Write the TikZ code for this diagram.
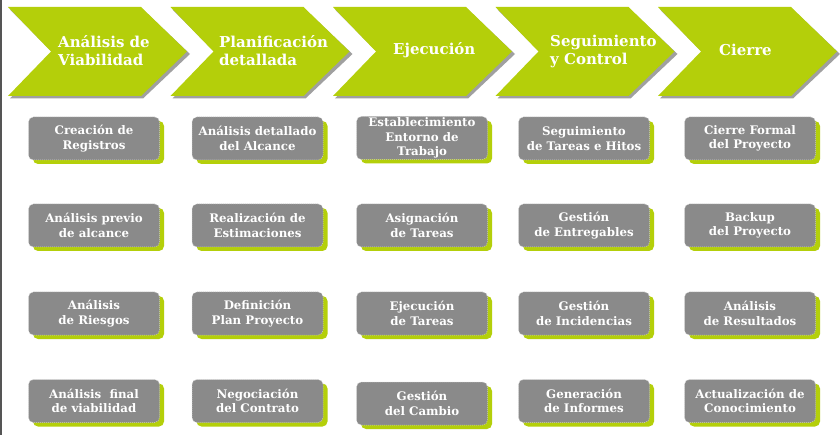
\documentclass[tikz,border=0pt]{standalone}
\usepackage{fontspec}
\setmainfont{DejaVu Serif}
\usetikzlibrary{shadows}
\definecolor{lime}{RGB}{180,207,10}
\definecolor{boxgray}{RGB}{138,138,138}
\definecolor{chevshadow}{RGB}{160,160,160}
\definecolor{boxborder}{RGB}{205,205,205}
\definecolor{edgegray}{RGB}{85,85,85}
\tikzset{
  chevtext/.style={text=white, font=\fontsize{15}{18}\selectfont\bfseries, align=left, inner sep=0pt},
  taskbox/.style={rounded corners=5pt, fill=boxgray, draw=boxborder, dash pattern=on 1pt off 1pt, line width=0.5pt,
    minimum width=131pt, minimum height=43pt, inner sep=0pt, text=white, align=center,
    font=\fontsize{11.8}{14.5}\selectfont\bfseries,
    drop shadow={fill=lime, opacity=1, shadow xshift=4.5pt, shadow yshift=-4pt}}
}
\begin{document}
\begin{tikzpicture}[x=1pt,y=-1pt]
\useasboundingbox (0,0) rectangle (840,435);
\fill[white] (0,0) rectangle (840,435);
\draw[line width=2pt, edgegray] (1,0) -- (1,435);
% chevrons
\foreach \x in {8,170.5,333,495.5,658}{
  \fill[chevshadow] (\x+2,9.5) -- (\x+135,9.5) -- (\x+182,54) -- (\x+135,98.5) -- (\x+2,98.5) -- (\x+46,54) -- cycle;
  \fill[lime] (\x,7) -- (\x+133,7) -- (\x+179,51.5) -- (\x+133,96) -- (\x,96) -- (\x+43,51.5) -- cycle;
}
\node[chevtext, anchor=west] (c1) at (58,51) {Análisis de\\Viabilidad};
\node[chevtext, anchor=west] (c2) at (219,51) {Planificación\\detallada};
\node[chevtext, anchor=west] (c3) at (393,50.5) {Ejecución};
\node[chevtext, anchor=west] (c4) at (550,51) {Seguimiento\\y Control};
\node[chevtext, anchor=west] (c5) at (719,50) {Cierre};
% column 1
\node[taskbox] (b11) at (94,138.5) {Creación de\\Registros};
\node[taskbox] (b12) at (94,225.5) {Análisis previo\\de alcance};
\node[taskbox] (b13) at (94,313.5) {Análisis\\de Riesgos};
\node[taskbox] (b14) at (94,401) {Análisis\ \ final\\de viabilidad};
% column 2
\node[taskbox] (b21) at (257.5,138.5) {Análisis detallado\\del Alcance};
\node[taskbox] (b22) at (257.5,225.5) {Realización de\\Estimaciones};
\node[taskbox] (b23) at (257.5,313.5) {Definición\\Plan Proyecto};
\node[taskbox] (b24) at (257.5,401) {Negociación\\del Contrato};
% column 3
\node[taskbox] (b31) at (422,138) {Establecimiento\\Entorno de\\Trabajo};
\node[taskbox] (b32) at (422,225.5) {Asignación\\de Tareas};
\node[taskbox] (b33) at (422,313.5) {Ejecución\\de Tareas};
\node[taskbox] (b34) at (422,403.5) {Gestión\\del Cambio};
% column 4
\node[taskbox] (b41) at (584,138.5) {Seguimiento\\de Tareas e Hitos};
\node[taskbox] (b42) at (584,225.5) {Gestión\\de Entregables};
\node[taskbox] (b43) at (584,313.5) {Gestión\\de Incidencias};
\node[taskbox] (b44) at (584,401) {Generación\\de Informes};
% column 5
\node[taskbox] (b51) at (750,138.5) {Cierre Formal\\del Proyecto};
\node[taskbox] (b52) at (750,225.5) {Backup\\del Proyecto};
\node[taskbox] (b53) at (750,313.5) {Análisis\\de Resultados};
\node[taskbox] (b54) at (750,401) {Actualización de\\Conocimiento};
\end{tikzpicture}
\end{document}
